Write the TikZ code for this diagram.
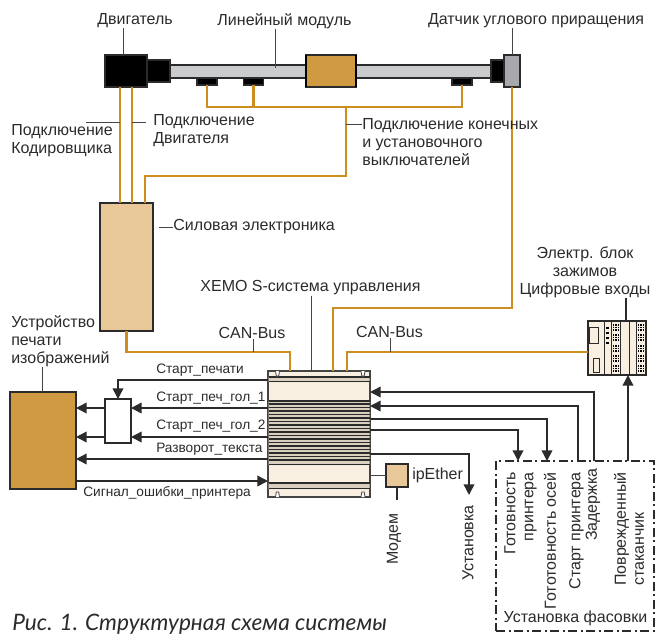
\documentclass[tikz,border=0pt]{standalone}
\usepackage{fontspec}
\setmainfont{Liberation Sans}
\newfontfamily\capfont{Lato}
\usetikzlibrary{arrows.meta}
\definecolor{wire}{HTML}{CC8F1F}
\definecolor{ink}{HTML}{2B2B2B}
\definecolor{tick}{HTML}{444444}
\definecolor{sand}{HTML}{E8C898}
\definecolor{ochre}{HTML}{CF9A41}
\definecolor{cream}{HTML}{F8EFE0}
\definecolor{railgray}{HTML}{C9CBCC}
\definecolor{enc}{HTML}{A8A9AD}
\definecolor{ribs}{HTML}{D8CFBF}
\tikzset{
  boxsize/.style 2 args={minimum width=#1*0.75pt,minimum height=#2*0.75pt,inner sep=0pt,outer sep=0pt},
  part/.style={draw=ink,line width=0.9pt},
  blackpart/.style={part,fill=black},
  wireline/.style={wire,line width=2pt},
  tickline/.style={tick,line width=0.7pt},
  sigline/.style={ink,line width=1.1pt},
  sigarrow/.style={sigline,-{Triangle[length=8pt,width=8pt]}},
  lbl/.style={font=\fontsize{12}{13.6}\selectfont,inner sep=0pt,text=ink,align=left},
  siglbl/.style={font=\fontsize{10.25}{11}\selectfont,inner sep=0pt,text=ink},
  sidelbl/.style={lbl,rotate=90,anchor=east},
}
\begin{document}
\begin{tikzpicture}[x=0.75pt,y=-0.75pt]
  \useasboundingbox (0,0) rectangle (656,635);
  % linear module
  \node[part,fill=railgray,boxsize={322}{13}] (rail) at (331,71.5) {};
  \node[blackpart,boxsize={42}{32}] (motor) at (126,71) {};
  \node[blackpart,boxsize={23}{22}] (coupling) at (158.5,71) {};
  \node[part,fill=ochre,boxsize={50}{32},line width=1.1pt] (carriage) at (331,71) {};
  \draw[black,line width=1.5pt] (carriage.north west) -- (carriage.south west);
  \draw[black,line width=1.5pt] (carriage.north east) -- (carriage.south east);
  \node[blackpart,boxsize={13}{22}] (coupling2) at (497.5,71) {};
  \node[part,fill=enc,boxsize={16}{32}] (encoder) at (512,71) {};
  \node[blackpart,boxsize={20}{7}] (swa) at (207,81.5) {};
  \node[blackpart,boxsize={20}{7}] (swb) at (253.5,81.5) {};
  \node[blackpart,boxsize={20}{7}] (swc) at (462,81.5) {};
  % main blocks
  \node[part,fill=sand,boxsize={53}{128}] (power) at (126.5,267) {};
  \node[part,fill=ochre,boxsize={66}{97}] (printer) at (43,440.5) {};
  \node[part,fill=white,boxsize={26}{44}] (split) at (118,421) {};
  \node[draw=tick,line width=0.9pt,fill=cream,boxsize={102}{126}] (xemo) at (319,434) {};
  \node[part,fill=sand,boxsize={22}{23}] (ether) at (397,475.5) {};
  \node[part,fill=cream,boxsize={58}{54}] (terminal) at (617,348) {};
  % ribs of the controller
  \fill[ribs] (268.5,377) rectangle (369.5,382) (268.5,401) rectangle (369.5,465) (268.5,483) rectangle (369.5,489);
  \foreach \yy in {377,381.5,401,404,407.5,411,414.5,418,421.5,425,428.5,432,435.5,439,442.5,446,449.5,453,456.5,460,464.5,483,488.5}
    \draw[ink,line width=0.85pt] (268.5,\yy) -- (369.5,\yy);
  \foreach \xx in {275.5,361}
    \foreach \yb/\yc in {371/376,497/492}
      \draw[tick,line width=0.6pt,fill=white] (\xx,\yb) -- (\xx+0.8,\yc) -- (\xx+3.2,\yc) -- (\xx+4,\yb);
  % terminal block
  \foreach \xx in {604,611,620,629,636}
    \draw[ink,line width=0.6pt] (\xx,321) -- (\xx,375);
  \draw[ink,line width=0.6pt] (589,327) rectangle (598,343) (593,358) rectangle (599,372);
  \foreach \xx in {612.5,637.5}
    \foreach \yy in {324,334,345,355,365}
      \foreach \dx in {0,2.5,5}
        \foreach \dy in {0,2.5,5}
          \fill[black] (\xx+\dx,\yy+\dy) rectangle ++(1.5,1.5);
  \foreach \yy in {327,332,337,342}
    \fill[black] (606,\yy) rectangle ++(3,2);
  % orange wiring
  \coordinate (encbend) at (333,308);
  \coordinate (swjoin) at (346,107);
  \coordinate (pwrbend) at (346,176);
  \coordinate (canl) at (253,352);
  \coordinate (canr) at (390,352);
  \draw[wireline] ([xshift=-4.5pt]motor.south) -- ([xshift=-4.5pt]motor.south |- power.north);
  \draw[wireline] ([xshift=4.5pt]motor.south) -- ([xshift=4.5pt]motor.south |- power.north);
  \draw[wireline] (swa.south) |- (swjoin) -| (swc.south);
  \draw[wireline] (swb.south) -- (swb.south |- swjoin);
  \draw[wireline] (swjoin) -- (pwrbend) -| ([xshift=13.9pt]power.north);
  \draw[wireline] (power.south) |- (canl) -| ([xshift=-21.7pt]xemo.north);
  \draw[wireline] (encoder.south) |- (encbend) -- (encbend |- xemo.north);
  \draw[wireline] (terminal.west |- canr) -| ([xshift=21pt]xemo.north);
  % signals
  \coordinate (siga) at (0,380);
  \coordinate (sigb) at (0,408);
  \coordinate (sigc) at (0,437);
  \coordinate (sigd) at (0,459);
  \coordinate (sige) at (0,481);
  \coordinate (sigf) at (0,392);
  \coordinate (sigg) at (0,406);
  \coordinate (sigh) at (0,419);
  \coordinate (sigi) at (0,430);
  \coordinate (sigj) at (0,454);
  \draw[sigarrow] (xemo.west |- siga) -| (split.north);
  \draw[sigarrow] (xemo.west |- sigb) -- (split.east |- sigb);
  \draw[sigarrow] (xemo.west |- sigc) -- (split.east |- sigc);
  \draw[sigarrow] (split.west |- sigb) -- (printer.east |- sigb);
  \draw[sigarrow] (split.west |- sigc) -- (printer.east |- sigc);
  \draw[sigarrow] (xemo.west |- sigd) -- (printer.east |- sigd);
  \draw[sigarrow] (printer.east |- sige) -- (xemo.west |- sige);
  % filling unit
  \node[draw=ink,line width=0.9pt,dash pattern=on 7pt off 2.5pt on 1.5pt off 2.5pt,boxsize={158}{170}] (filling) at (575,546) {};
  \coordinate (tapa) at (594,461);
  \coordinate (tapb) at (578,461);
  \coordinate (tapc) at (547,461);
  \coordinate (tapd) at (518,461);
  \coordinate (tape) at (628,461);
  \coordinate (setup) at (469,495);
  \draw[sigarrow] (tapa) |- (xemo.east |- sigf);
  \draw[sigarrow] (tapb) |- (xemo.east |- sigg);
  \draw[sigarrow] (xemo.east |- sigh) -| (tapc);
  \draw[sigarrow] (xemo.east |- sigi) -| (tapd);
  \draw[sigarrow] (xemo.east |- sigj) -| (setup);
  \draw[sigarrow] (tape) -- (tape |- terminal.south);
  \draw[tickline] (xemo.east |- ether.west) -- (ether.west);
  \coordinate (modemend) at (397,500);
  \draw[sigline,line width=0.9pt] (ether.south) -- (modemend);
  % labels
  \node[lbl] (lmotor) at (135,21) {Двигатель};
  \node[lbl] (lrail) at (284.5,21) {Линейный модуль};
  \node[lbl] (lenc) at (536,21) {Датчик углового приращения};
  \node[lbl,anchor=west] (lenccable) at (11,141) {Подключение\\Кодировщика};
  \node[lbl,anchor=west] (lmotcable) at (153,131) {Подключение\\Двигателя};
  \node[lbl,anchor=west] (lsw) at (362,142) {Подключение конечных\\и установочного\\выключателей};
  \node[lbl,anchor=west] (lpower) at (173,227) {Силовая электроника};
  \node[lbl] (lxemo) at (310.5,288) {XEMO S-система управления};
  \node[lbl] (lcanl) at (252,333) {CAN-Bus};
  \node[lbl] (lcanr) at (389.5,332) {CAN-Bus};
  \node[lbl,anchor=west] (lprinter) at (11,341) {Устройство\\печати\\изображений};
  \node[lbl,align=center] (lterm) at (585,272) {Электр. блок\\зажимов\\Цифровые входы};
  \node[lbl,anchor=west] (lether) at (412,475) {ipEther};
  \node[siglbl,anchor=west] (lsiga) at (156,370) {Старт\_печати};
  \node[siglbl,anchor=west] (lsigb) at (156,398) {Старт\_печ\_гол\_1};
  \node[siglbl,anchor=west] (lsigc) at (156,426) {Старт\_печ\_гол\_2};
  \node[siglbl,anchor=west] (lsigd) at (156,449) {Разворот\_текста};
  \node[siglbl,anchor=west] (lsige) at (83,493) {Сигнал\_ошибки\_принтера};
  \node[sidelbl] (lmodem) at (394,513) {Модем};
  \node[sidelbl] (lsetup) at (468,505) {Установка};
  \node[sidelbl,align=right] (lready) at (520.5,472) {Готовность\\принтера};
  \node[sidelbl] (laxes) at (550,472) {Гототовность осей};
  \node[sidelbl] (lstart) at (576.5,472) {Старт принтера};
  \node[sidelbl] (ldelay) at (593,468) {Задержка};
  \node[sidelbl,align=left] (ldamaged) at (629,472) {Поврежденный\\стаканчик};
  \node[lbl] (lfilling) at (575.5,618) {Установка фасовки};
  \node[anchor=base west,inner sep=0pt,text=ink,font=\capfont\itshape\fontsize{17}{20}\selectfont] (caption) at (12,630) {Рис. 1. Структурная схема системы};
  % label ticks
  \coordinate (motortick) at (123,55);
  \coordinate (railtick) at (275,68);
  \draw[tickline] (lmotor.south -| motortick) -- (motortick);
  \draw[tickline] (lrail.south -| railtick) -- (railtick);
  \draw[tickline] (lenc.south -| encoder.north) -- (encoder.north);
  \coordinate (enctick) at (120,122);
  \coordinate (encfree) at (86,122);
  \coordinate (mottick) at (132,122);
  \coordinate (motfree) at (146,122);
  \coordinate (swtick) at (346,124);
  \coordinate (pwrfree) at (159,227);
  \draw[tickline] (encfree) -- (enctick);
  \draw[tickline] (mottick) -- (motfree);
  \draw[tickline] (swtick) -- (lsw.west |- swtick);
  \draw[tickline] (pwrfree) -- (lpower.west);
  \draw[tickline] (lxemo.south -| 311,0) -- (xemo.north -| 311,0);
  \draw[tickline] (lcanl.south -| canl) -- (canl);
  \draw[tickline] (lcanr.south -| canr) -- (canr);
  \draw[tickline] (lprinter.south -| 42,0) -- (printer.north -| 42,0);
  \draw[sigline,line width=0.8pt] (lterm.south -| 626,0) -- (terminal.north -| 626,0);
\end{tikzpicture}
\end{document}
